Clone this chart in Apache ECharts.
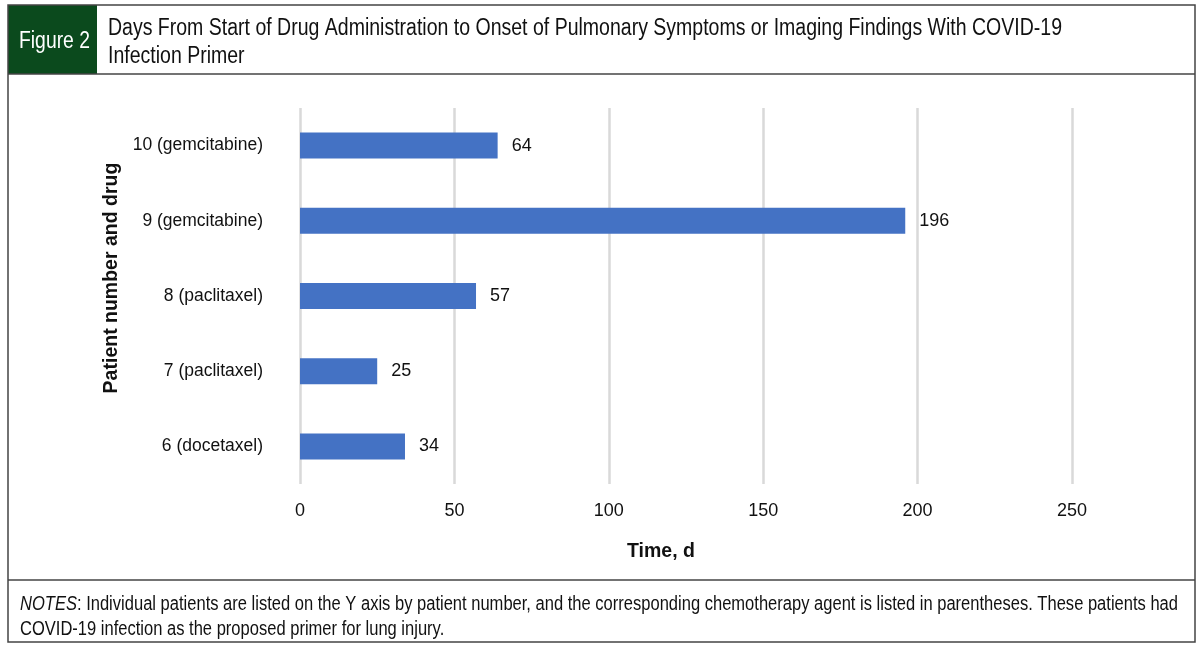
<!DOCTYPE html>
<html><head><meta charset="utf-8">
<script src="https://cdn.jsdelivr.net/npm/echarts@6/dist/echarts.min.js"></script>
<style>html,body{margin:0;padding:0;background:#fff}#c{width:1200px;height:649px}</style>
</head><body><div id="c"></div>
<script>
var categories = ['6 (docetaxel)', '7 (paclitaxel)', '8 (paclitaxel)', '9 (gemcitabine)', '10 (gemcitabine)'];
var days = [34, 25, 57, 196, 64];
var xTicks = [0, 50, 100, 150, 200, 250];

var titleLine1 = 'Days From Start of Drug Administration to Onset of Pulmonary Symptoms or Imaging Findings With COVID-19';
var titleLine2 = 'Infection Primer';
var figLabel = 'Figure 2';
var noteLine1Rest = ': Individual patients are listed on the Y axis by patient number, and the corresponding chemotherapy agent is listed in parentheses. These patients had';
var noteLine2 = 'COVID-19 infection as the proposed primer for lung injury.';

var FONT = '"Liberation Sans", Arial, sans-serif';
var mctx = document.createElement('canvas').getContext('2d');
function fitScale(text, font, target) {
  mctx.font = font;
  return target / mctx.measureText(text).width;
}
var titleFont = '23.5px ' + FONT;
var titleScale = fitScale(titleLine1, titleFont, 954);
var figScale = fitScale(figLabel, titleFont, 71);
var noteFont = '19.5px ' + FONT;
mctx.font = 'italic ' + noteFont;
var wNotes = mctx.measureText('NOTES').width;
mctx.font = noteFont;
var noteScale = 1158 / (wNotes + mctx.measureText(noteLine1Rest).width);

var chart = echarts.init(document.getElementById('c'));
chart.setOption({
  animation: false,
  backgroundColor: '#fff',
  grid: {left: 300, right: 128, top: 108, bottom: 165, containLabel: false},
  xAxis: {
    type: 'value', min: xTicks[0], max: xTicks[xTicks.length - 1], interval: xTicks[1] - xTicks[0],
    axisLine: {show: false}, axisTick: {show: false},
    splitLine: {lineStyle: {color: '#d9d9d9', width: 2.5}},
    axisLabel: {color: '#111', fontFamily: FONT, fontSize: 18, margin: 18},
    name: 'Time, d', nameLocation: 'middle', nameGap: 58,
    nameTextStyle: {color: '#111', fontFamily: FONT, fontSize: 19.5, fontWeight: 'bold', padding: [0, 50, 0, 0]}
  },
  yAxis: {
    type: 'category', data: categories,
    axisLine: {show: false}, axisTick: {show: false},
    axisLabel: {color: '#111', fontFamily: FONT, fontSize: 17.5, margin: 37},
    name: 'Patient number and drug', nameLocation: 'middle', nameGap: 178, nameRotate: 90,
    nameTextStyle: {color: '#111', fontFamily: FONT, fontSize: 19.5, fontWeight: 'bold', padding: [0, 0, 0, 36]}
  },
  series: [{
    type: 'bar', data: days, barWidth: 26,
    itemStyle: {color: '#4472c4'},
    label: {show: true, position: 'right', distance: 14, color: '#111', fontFamily: FONT, fontSize: 18}
  }],
  graphic: [
    {type: 'rect', shape: {x: 8, y: 5, width: 1187, height: 637}, style: {fill: 'none', stroke: '#444', lineWidth: 1.5}, z: 100},
    {type: 'rect', shape: {x: 8, y: 5, width: 89, height: 69}, style: {fill: '#0b4a1d'}, z: 99},
    {type: 'line', shape: {x1: 8, y1: 74, x2: 1195, y2: 74}, style: {stroke: '#444', lineWidth: 1.5}, z: 100},
    {type: 'line', shape: {x1: 8, y1: 580, x2: 1195, y2: 580}, style: {stroke: '#444', lineWidth: 1.5}, z: 100},
    {type: 'text', x: 19, y: 42, scaleX: figScale, style: {text: figLabel, fill: '#fff', font: titleFont, verticalAlign: 'middle'}, z: 101},
    {type: 'text', x: 108, y: 29, scaleX: titleScale, style: {text: titleLine1, fill: '#111', font: titleFont, verticalAlign: 'middle'}, z: 101},
    {type: 'text', x: 108, y: 56.5, scaleX: titleScale, style: {text: titleLine2, fill: '#111', font: titleFont, verticalAlign: 'middle'}, z: 101},
    {type: 'text', x: 20, y: 605, scaleX: noteScale, style: {
      text: '{i|NOTES}' + noteLine1Rest, fill: '#111', font: noteFont, verticalAlign: 'middle',
      rich: {i: {fontStyle: 'italic', fontFamily: FONT, fontSize: 19.5, fill: '#111'}}
    }, z: 101},
    {type: 'text', x: 20, y: 629.5, scaleX: noteScale, style: {text: noteLine2, fill: '#111', font: noteFont, verticalAlign: 'middle'}, z: 101}
  ]
});
</script></body></html>
